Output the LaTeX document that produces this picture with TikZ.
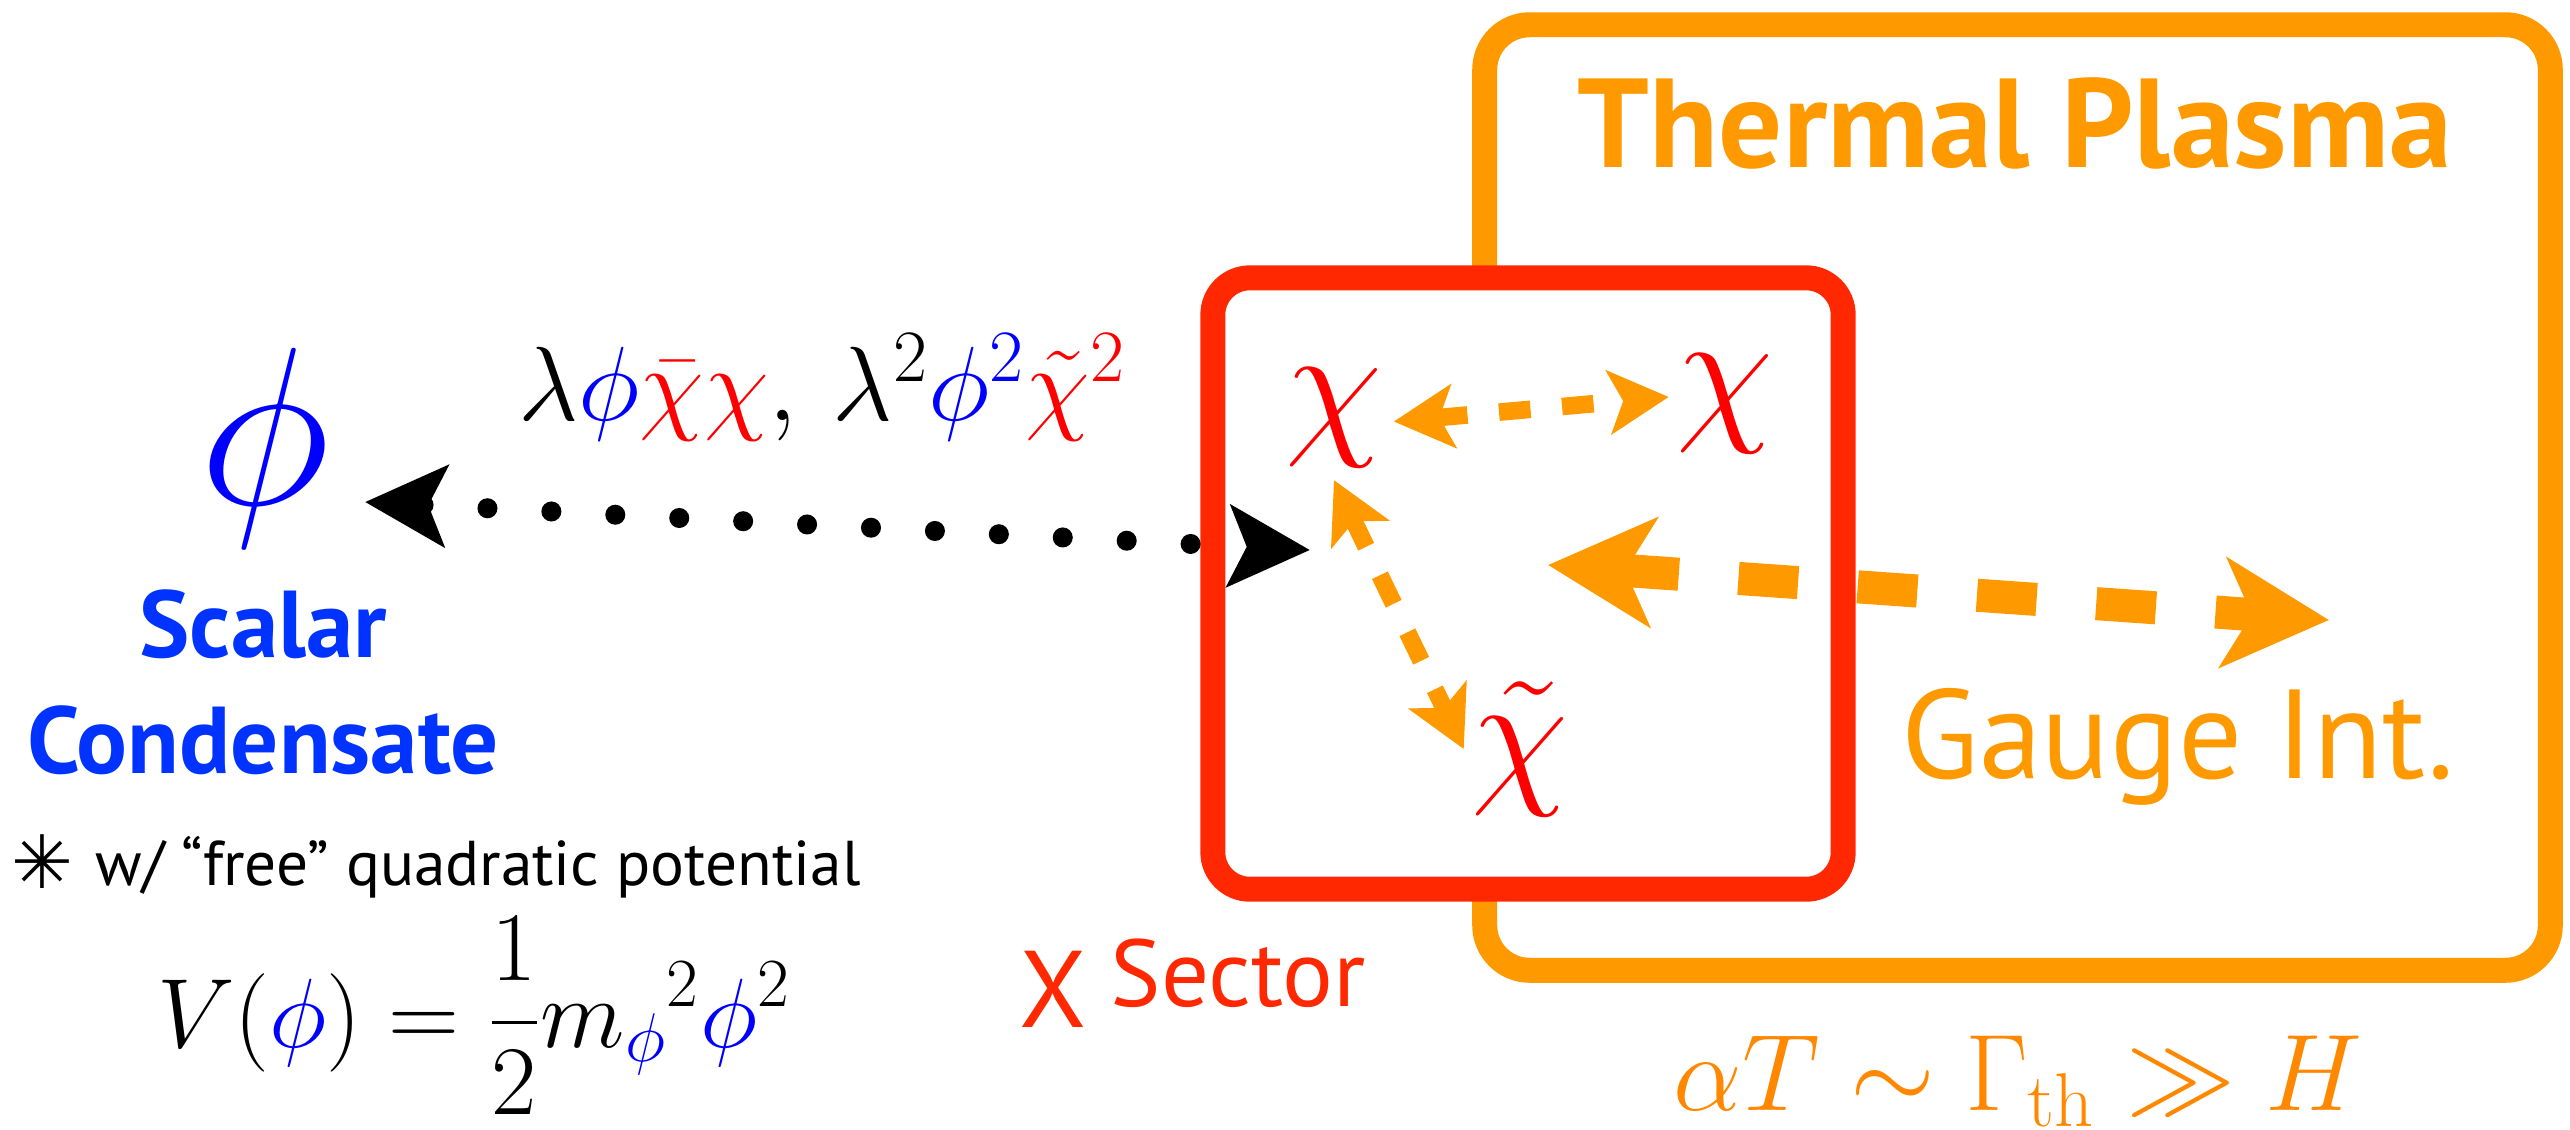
\RequirePackage{fix-cm}
\documentclass[tikz,border=0pt]{standalone}
\usepackage{amsmath}
\usepackage{fontspec}
\newfontfamily\labelfont{PT Sans}
\newfontfamily\symbfont{DejaVu Sans}
\usepackage{tikz}
\usetikzlibrary{arrows.meta}

\definecolor{plasmaorange}{RGB}{255,153,0}
\definecolor{rateorange}{RGB}{255,136,0}
\definecolor{sectorred}{RGB}{255,40,0}
\definecolor{condblue}{RGB}{0,51,255}

\begin{document}
\begin{tikzpicture}[x=0.01cm, y=-0.01cm,
    plasmabox/.style={draw=plasmaorange, line width=7.1pt, rounded corners=0.45cm,
        minimum width=10.65cm, minimum height=9.45cm, inner sep=0pt},
    sectorbox/.style={draw=sectorred, fill=white, line width=7.1pt, rounded corners=0.37cm,
        minimum width=6.3cm, minimum height=6.11cm, inner sep=0pt},
    chinode/.style={text=red, inner sep=0pt, font=\fontsize{45}{45}\selectfont},
    dotarrow/.style={line width=5.7pt, line cap=round, dash pattern=on 0pt off 18.2pt,
        {Stealth[length=23pt,width=23pt,inset=5pt]}-{Stealth[length=23pt,width=23pt,inset=5pt]}},
    chiarrow/.style={plasmaorange, line width=5pt, dash pattern=on 9pt off 9pt,
        {Stealth[length=17pt,width=18pt,inset=4pt]}-{Stealth[length=17pt,width=18pt,inset=4pt]}},
    gaugearrow/.style={plasmaorange, line width=9.4pt, dash pattern=on 17pt off 17pt,
        {Stealth[length=30pt,width=31pt,inset=8pt]}-{Stealth[length=30pt,width=31pt,inset=8pt]}}]
    \useasboundingbox (0,0) rectangle (2570,1129);

    % Thermal plasma and X sector
    \node[plasmabox] (plasma) at (2017.5,497.5) {};
    \node[sectorbox] (sector) at (1528,583.5) {};
    \node[anchor=base, text=plasmaorange, font={\labelfont\bfseries\fontsize{36}{40}\selectfont}] (plasmalbl) at (2015,167) {Thermal Plasma};
    \node[anchor=base, text=plasmaorange, font={\labelfont\fontsize{36}{40}\selectfont}] (gaugelbl) at (2178,778) {Gauge Int.};
    \node[anchor=base, text=sectorred, font={\labelfont\fontsize{31}{36}\selectfont}] (xlbl) at (1053,1027) {X};
    \node[anchor=base, text=sectorred, font={\labelfont\fontsize{27}{32}\selectfont}] (sectlbl) at (1238,1006) {Sector};
    \node[anchor=base, text=rateorange, font=\fontsize{31}{36}\selectfont] (rate) at (2018,1110) {$\alpha T \sim \Gamma_{\mathrm{th}} \gg H$};

    % fields inside the sector
    \node[chinode] (chiA) at (1334,418) {$\chi$};
    \node[chinode] (chiB) at (1725,404) {$\chi$};
    \node[chinode] (chit) at (1520,749) {$\tilde{\chi}$};

    % Scalar condensate
    \node[anchor=base, text=blue, font=\fontsize{64}{64}\selectfont] (phi) at (265,504) {$\phi$};
    \node[anchor=base, text=condblue, font={\labelfont\bfseries\fontsize{27}{32}\selectfont}] (scal) at (263,657) {Scalar};
    \node[anchor=base, text=condblue, font={\labelfont\bfseries\fontsize{27}{32}\selectfont}] (cond) at (263,773) {Condensate};
    \node[inner sep=0pt, font=\symbfont\fontsize{21}{21}\selectfont] (star) at (42,862) {✳};
    \node[anchor=base west, inner sep=0pt, font={\labelfont\fontsize{18}{22}\selectfont}] (freelbl) at (95,885) {w/ “free” quadratic potential};
    \node[anchor=base, font=\fontsize{28}{32}\selectfont] (pot) at (474,1047)
        {$\displaystyle V(\textcolor{blue}{\phi}) = \frac{1}{2}{m_{\textcolor{blue}{\phi}}}^2\textcolor{blue}{\phi}^2$};

    % coupling
    \node[anchor=base, font=\fontsize{30}{34}\selectfont] (coupl) at (822,420)
        {$\lambda\textcolor{blue}{\phi}\textcolor{red}{\bar{\chi}\chi},\, \lambda^2\textcolor{blue}{\phi^2}\textcolor{red}{\tilde{\chi}^2}$};
    \coordinate (phiend) at (365,502);
    \coordinate (sectend) at (1310,550);
    \draw[dotarrow] (phiend) -- (sectend);

    % interactions
    \draw[chiarrow] ([xshift=3pt,yshift=-1pt]chiA.east) -- ([xshift=-2pt,yshift=2pt]chiB.west);
    \draw[chiarrow] ([yshift=-3.4pt]chiA.south) -- ([xshift=-2pt]chit.west);
    \coordinate (gaugeL) at (1548,565);
    \coordinate (gaugeR) at (2329,620);
    \draw[gaugearrow] (gaugeL) -- (gaugeR);
\end{tikzpicture}
\end{document}
